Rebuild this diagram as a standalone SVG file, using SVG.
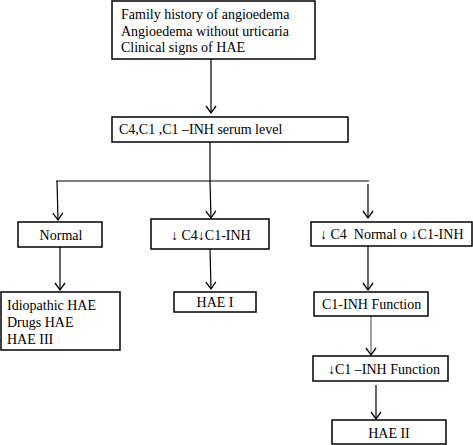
<svg xmlns="http://www.w3.org/2000/svg" width="473" height="445" viewBox="0 0 473 445">
<style>
.box{fill:#fff;stroke:#000;stroke-width:1.5}
.t{font-family:"Liberation Serif","Times New Roman","DejaVu Serif",serif;font-size:14px;fill:#000}
.c{stroke:#000;stroke-width:1.2;fill:none}
.g{stroke:#666;stroke-width:1.2;fill:none}
.ar{font-weight:bold}
</style>
<defs>
<marker id="ah" markerWidth="12" markerHeight="12" refX="10" refY="6" orient="auto" markerUnits="userSpaceOnUse" viewBox="0 0 12 12">
<polyline points="3,1 10,6 3,11" fill="none" stroke="#000" stroke-width="1.3"/>
</marker>
</defs>
<rect width="473" height="445" fill="#fff"/>
<g id="connectors">
<line class="c" x1="211" y1="59" x2="211" y2="113" marker-end="url(#ah)"/>
<line class="c" x1="210" y1="142" x2="210" y2="181"/>
<line class="c" x1="56" y1="181" x2="369" y2="181"/>
<line class="c" x1="57" y1="181" x2="58" y2="220" marker-end="url(#ah)"/>
<line class="c" x1="210" y1="181" x2="211" y2="218" marker-end="url(#ah)"/>
<line class="c" x1="368" y1="184" x2="368" y2="218" marker-end="url(#ah)"/>
<line class="c" x1="60" y1="247" x2="60" y2="290" marker-end="url(#ah)"/>
<line class="c" x1="210" y1="249" x2="211" y2="289" marker-end="url(#ah)"/>
<line class="c" x1="368" y1="246" x2="368" y2="290" marker-end="url(#ah)"/>
<line class="g" x1="371" y1="316" x2="371" y2="355" marker-end="url(#ah)"/>
<line class="c" x1="376" y1="385" x2="376" y2="419" marker-end="url(#ah)"/>
</g>
<g id="n1"><rect class="box" x="112" y="1" width="203" height="58"/>
<text class="t" x="121" y="19">Family history of angioedema</text>
<text class="t" x="121" y="36">Angioedema without urticaria</text>
<text class="t" x="121" y="52">Clinical signs of HAE</text></g>
<g id="n2"><rect class="box" x="112" y="117" width="236" height="25"/>
<text class="t" x="119" y="134">C4,C1 ,C1 –INH serum level</text></g>
<g id="n3"><rect class="box" x="18" y="222" width="84" height="25"/>
<text class="t" x="61" y="240" text-anchor="middle">Normal</text></g>
<g id="n4"><rect class="box" x="151" y="219" width="118" height="30"/>
<text class="t" x="171" y="240"><tspan class="ar">↓</tspan> C4<tspan class="ar">↓</tspan>C1-INH</text></g>
<g id="n5"><rect class="box" x="311" y="222" width="161" height="24"/>
<text class="t" x="320" y="239" xml:space="preserve"><tspan class="ar">↓</tspan> C4  Normal o <tspan class="ar">↓</tspan>C1-INH</text></g>
<g id="n6"><rect class="box" x="1" y="292" width="119" height="58"/>
<text class="t" x="7" y="310">Idiopathic HAE</text>
<text class="t" x="7" y="327">Drugs HAE</text>
<text class="t" x="7" y="344">HAE III</text></g>
<g id="n7"><rect class="box" x="174" y="292" width="82" height="20"/>
<text class="t" x="215" y="307" text-anchor="middle">HAE I</text></g>
<g id="n8"><rect class="box" x="314" y="292" width="114" height="24"/>
<text class="t" x="322" y="309">C1-INH Function</text></g>
<g id="n9"><rect class="box" x="313" y="356" width="135" height="25"/>
<text class="t" x="328" y="374"><tspan class="ar">↓</tspan>C1 –INH Function</text></g>
<g id="n10"><rect class="box" x="332" y="420" width="114" height="24"/>
<text class="t" x="389" y="438" text-anchor="middle">HAE II</text></g>
</svg>
